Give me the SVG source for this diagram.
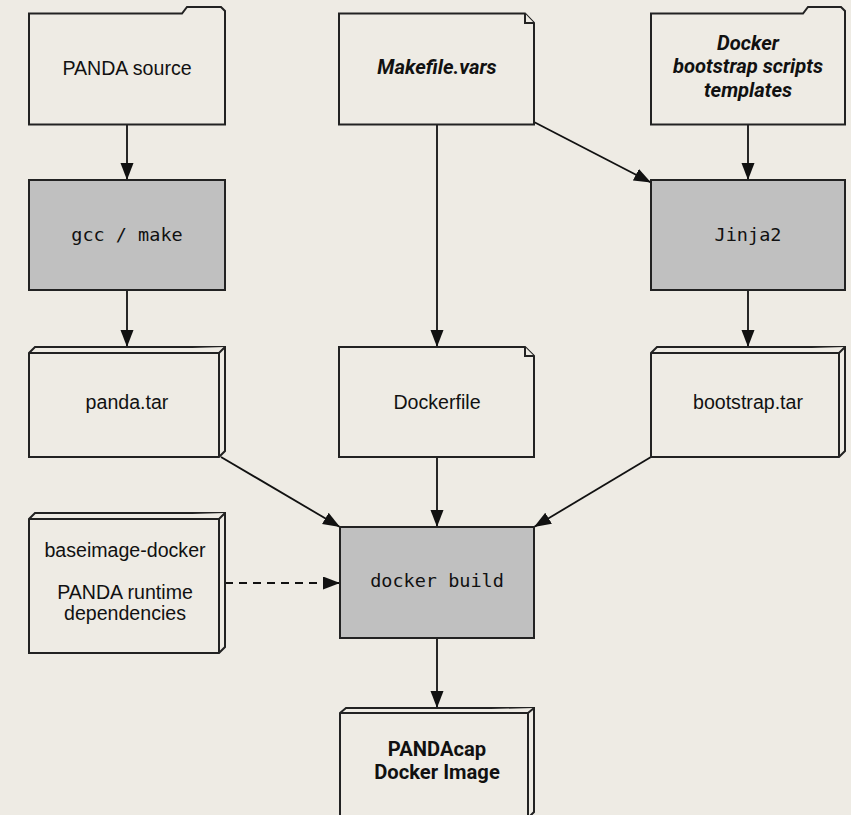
<svg xmlns="http://www.w3.org/2000/svg" width="851" height="815" viewBox="0 0 851 815">
<defs>
<marker id="ah" markerUnits="userSpaceOnUse" markerWidth="18" markerHeight="14" refX="17" refY="6.5" orient="auto">
<path d="M0,0 L17,6.5 L0,13 Z" fill="#111"/>
</marker>
<style>
.shape{fill:#eeebe4;stroke:#222;stroke-width:2;stroke-linejoin:miter}
.proc{fill:#c0c0c0;stroke:#222;stroke-width:2}
.t{font-family:"Liberation Sans",Arial,sans-serif;font-size:19.6px;fill:#111;text-anchor:middle}
.bi{font-family:Roboto,"Liberation Sans",sans-serif;font-size:20.2px;font-weight:bold;font-style:italic;fill:#111;text-anchor:middle}
.b{font-family:Roboto,"Liberation Sans",sans-serif;font-size:20.2px;font-weight:bold;fill:#111;text-anchor:middle}
.m{font-family:"DejaVu Sans Mono",monospace;font-size:18.5px;fill:#111;text-anchor:middle}
.c{fill:none;stroke:#111;stroke-width:1.8;marker-end:url(#ah)}
.d{stroke-dasharray:8,6}
</style>
</defs>
<rect width="851" height="815" fill="#eeebe4"/>

<g id="connectors">
<line class="c" x1="127" y1="124.5" x2="127" y2="180"/>
<line class="c" x1="127" y1="290" x2="127" y2="347"/>
<line class="c" x1="437" y1="124.5" x2="437" y2="347"/>
<line class="c" x1="534" y1="122" x2="651" y2="182.5"/>
<line class="c" x1="748" y1="124.5" x2="748" y2="180"/>
<line class="c" x1="748" y1="290" x2="748" y2="347"/>
<line class="c" x1="221" y1="457" x2="340" y2="527"/>
<line class="c" x1="437" y1="457" x2="437" y2="527"/>
<line class="c" x1="651" y1="457" x2="534" y2="527"/>
<line class="c d" x1="225" y1="583" x2="340" y2="583"/>
<line class="c" x1="437" y1="638" x2="437" y2="708"/>
</g>

<g id="panda-source">
<path class="shape" d="M29,13.5 H182 L187,7 H221 L225,11 V124.5 H29 Z"/>
<text class="t" x="127" y="75">PANDA source</text>
</g>

<g id="makefile-vars">
<path class="shape" d="M339,13.5 H525 L534,23 V124.5 H339 Z"/>
<path class="shape" d="M525,13.5 V23 H534" fill="none"/>
<text class="bi" x="437" y="73.5">Makefile.vars</text>
</g>

<g id="docker-templates">
<path class="shape" d="M651,13.5 H803 L808,7 H841 L845,11 V124.5 H651 Z"/>
<text class="bi" x="748" y="50">Docker</text>
<text class="bi" x="748" y="73">bootstrap scripts</text>
<text class="bi" x="748" y="96.5">templates</text>
</g>

<g id="gcc-make">
<rect class="proc" x="29" y="180" width="196" height="110"/>
<text class="m" x="127" y="241">gcc / make</text>
</g>

<g id="jinja2">
<rect class="proc" x="651" y="180" width="194" height="110"/>
<text class="m" x="748" y="241">Jinja2</text>
</g>

<g id="panda-tar">
<path class="shape" d="M29,353 L35,347 H225 V451 L219,457 H29 Z"/>
<path class="shape" d="M29,353 H219 L225,347 M219,353 V457" fill="none"/>
<text class="t" x="127" y="409">panda.tar</text>
</g>

<g id="dockerfile">
<path class="shape" d="M339,347 H525 L534,356 V457 H339 Z"/>
<path class="shape" d="M525,347 V356 H534" fill="none"/>
<text class="t" x="437" y="408.5">Dockerfile</text>
</g>

<g id="bootstrap-tar">
<path class="shape" d="M651,353 L657,347 H845 V451 L839,457 H651 Z"/>
<path class="shape" d="M651,353 H839 L845,347 M839,353 V457" fill="none"/>
<text class="t" x="748" y="409">bootstrap.tar</text>
</g>

<g id="baseimage">
<path class="shape" d="M29,519 L35,513 H225 V647 L219,653 H29 Z"/>
<path class="shape" d="M29,519 H219 L225,513 M219,519 V653" fill="none"/>
<text class="t" x="125" y="556.5">baseimage-docker</text>
<text class="t" x="125" y="599">PANDA runtime</text>
<text class="t" x="125" y="620">dependencies</text>
</g>

<g id="docker-build">
<rect class="proc" x="340" y="527" width="194" height="111"/>
<text class="m" x="437" y="587">docker build</text>
</g>

<g id="pandacap-image">
<path class="shape" d="M340,713 L346,708 H534 V812 L528,818 H340 Z"/>
<path class="shape" d="M340,713 H528 L534,708 M528,713 V818" fill="none"/>
<text class="b" x="437" y="756">PANDAcap</text>
<text class="b" x="437" y="778.5">Docker Image</text>
</g>
</svg>
